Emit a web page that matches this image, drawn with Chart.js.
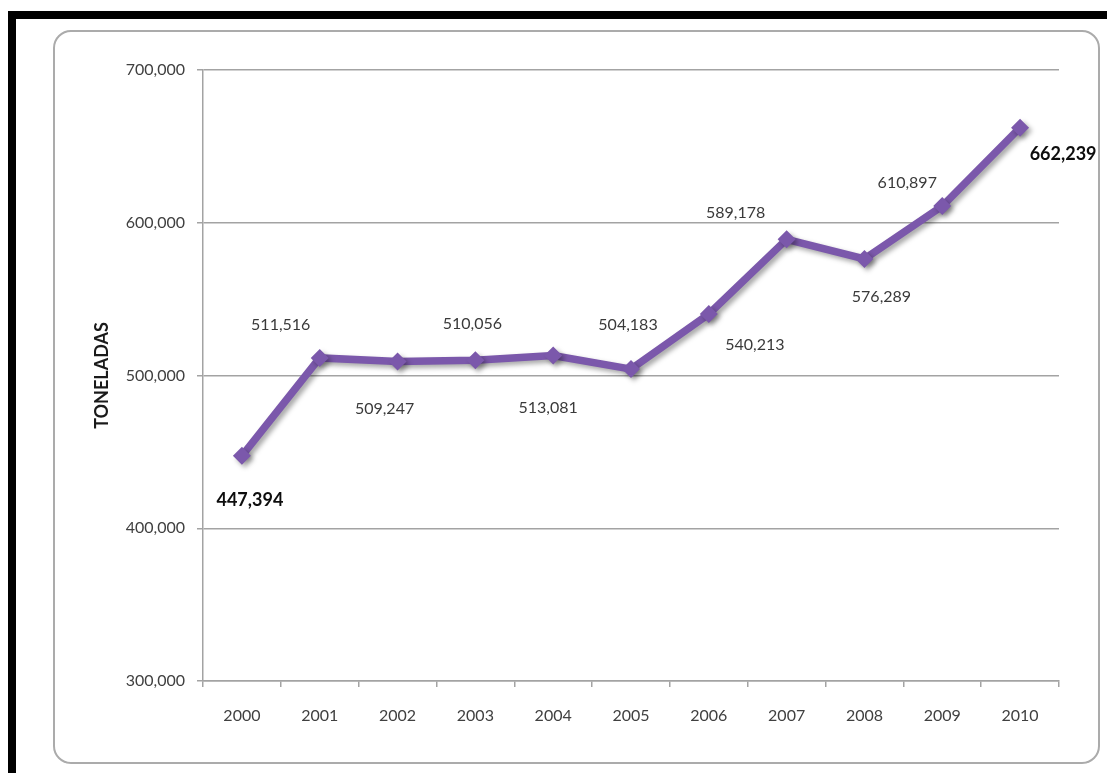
<!DOCTYPE html>
<html lang="es">
<head>
<meta charset="utf-8">
<title>Toneladas 2000-2010</title>
<script src="https://cdn.jsdelivr.net/npm/chart.js@4.4.1/dist/chart.umd.min.js"></script>
<style>
  html, body { margin: 0; padding: 0; background: #fff; }
  #wrap { position: relative; width: 1107px; height: 773px; overflow: hidden; background: #fff; }
  .band-top { position: absolute; left: 8px; top: 11px; right: 0; height: 8px; background: #000; }
  .band-left { position: absolute; left: 8px; top: 11px; width: 8px; bottom: 0; background: #000; }
  .frame { position: absolute; left: 53px; top: 30px; width: 1047px; height: 734px;
           border: 2px solid #ababab; border-radius: 18px; box-sizing: border-box; }
  #chartBox { position: absolute; left: 0; top: 0; width: 1107px; height: 773px; }
</style>
</head>
<body>
<div id="wrap">
  <div class="band-top"></div>
  <div class="band-left"></div>
  <div class="frame"></div>
  <div id="chartBox"><canvas id="tonChart"></canvas></div>
</div>
<script>
// datos por año
const anios = ['2000', '2001', '2002', '2003', '2004', '2005', '2006', '2007', '2008', '2009', '2010'];
const toneladas = [447394, 511516, 509247, 510056, 513081, 504183, 540213, 589178, 576289, 610897, 662239];
const ejeMin = 300000;
const ejeMax = 700000;
const ejePaso = 100000;

// desplazamiento de cada etiqueta respecto a su punto (px)
const desplaz = [[8, 44], [-39, -33], [-13, 47], [-3, -36], [-5, 52], [-3, -44],
                 [46, 31], [-51, -26], [17, 38], [-35, -23], [43, 27]];
const FUENTE = 'Lato, "Open Sans", sans-serif';
const MORADO = '#7b58ab';
const GRIS = '#a3a3a3';

const fmt = v => Number(v).toLocaleString('en-US');

// sombra bajo la línea
const sombra = {
    id: 'sombra',
    beforeDatasetDraw(chart) {
        const ctx = chart.ctx;
        ctx.save();
        ctx.shadowColor = 'rgba(0,0,0,0.35)';
        ctx.shadowBlur = 5;
        ctx.shadowOffsetX = 3;
        ctx.shadowOffsetY = 3;
    },
    afterDatasetDraw(chart) {
        chart.ctx.restore();
    }
};

// etiquetas con el valor de cada punto
const etiquetas = {
    id: 'etiquetas',
    afterDatasetsDraw(chart) {
        const ctx = chart.ctx;
        const meta = chart.getDatasetMeta(0);
        const ultimo = meta.data.length - 1;
        ctx.save();
        ctx.textAlign = 'center';
        ctx.textBaseline = 'middle';
        meta.data.forEach((pt, i) => {
            const destacado = (i === 0 || i === ultimo);
            ctx.font = destacado ? 'bold 18px ' + FUENTE : '16px ' + FUENTE;
            ctx.fillStyle = destacado ? '#0d0d0d' : '#3a3a3a';
            const [dx, dy] = desplaz[i];
            ctx.fillText(fmt(chart.data.datasets[0].data[i]), pt.x + dx, pt.y + dy);
        });
        ctx.restore();
    }
};

new Chart(document.getElementById('tonChart').getContext('2d'), {
    type: 'line',
    data: {
        labels: anios,
        datasets: [{
            label: 'Toneladas',
            data: toneladas,
            borderColor: MORADO,
            backgroundColor: MORADO,
            borderWidth: 7.5,
            pointStyle: 'rectRot',
            pointRadius: 9,
            pointBorderWidth: 0,
            pointBackgroundColor: MORADO,
            tension: 0,
            fill: false
        }]
    },
    options: {
        responsive: true,
        maintainAspectRatio: false,
        animation: false,
        layout: { padding: { left: 0, right: 48, top: 70, bottom: 32 } },
        plugins: {
            legend: { display: false },
            tooltip: { enabled: false }
        },
        scales: {
            x: {
                offset: true,
                afterFit(scale) { scale.height = 60; },
                grid: { drawOnChartArea: false, offset: true, tickLength: 6, color: GRIS, lineWidth: 1.5 },
                border: { color: GRIS, width: 1.5 },
                ticks: { color: '#404040', padding: 19, font: { family: FUENTE, size: 16 } }
            },
            y: {
                min: ejeMin,
                max: ejeMax,
                afterFit(scale) { scale.width = 203; },
                grid: { color: GRIS, lineWidth: 1.5, tickLength: 6 },
                border: { color: GRIS, width: 1.5 },
                ticks: {
                    stepSize: ejePaso,
                    padding: 12,
                    color: '#404040',
                    font: { family: FUENTE, size: 16 },
                    callback: v => fmt(v)
                },
                title: {
                    display: true,
                    text: 'TONELADAS',
                    color: '#1a1a1a',
                    padding: { top: 91, bottom: 0 },
                    font: { family: FUENTE, size: 18, weight: 'bold' }
                }
            }
        }
    },
    plugins: [sombra, etiquetas]
});
</script>
</body>
</html>
